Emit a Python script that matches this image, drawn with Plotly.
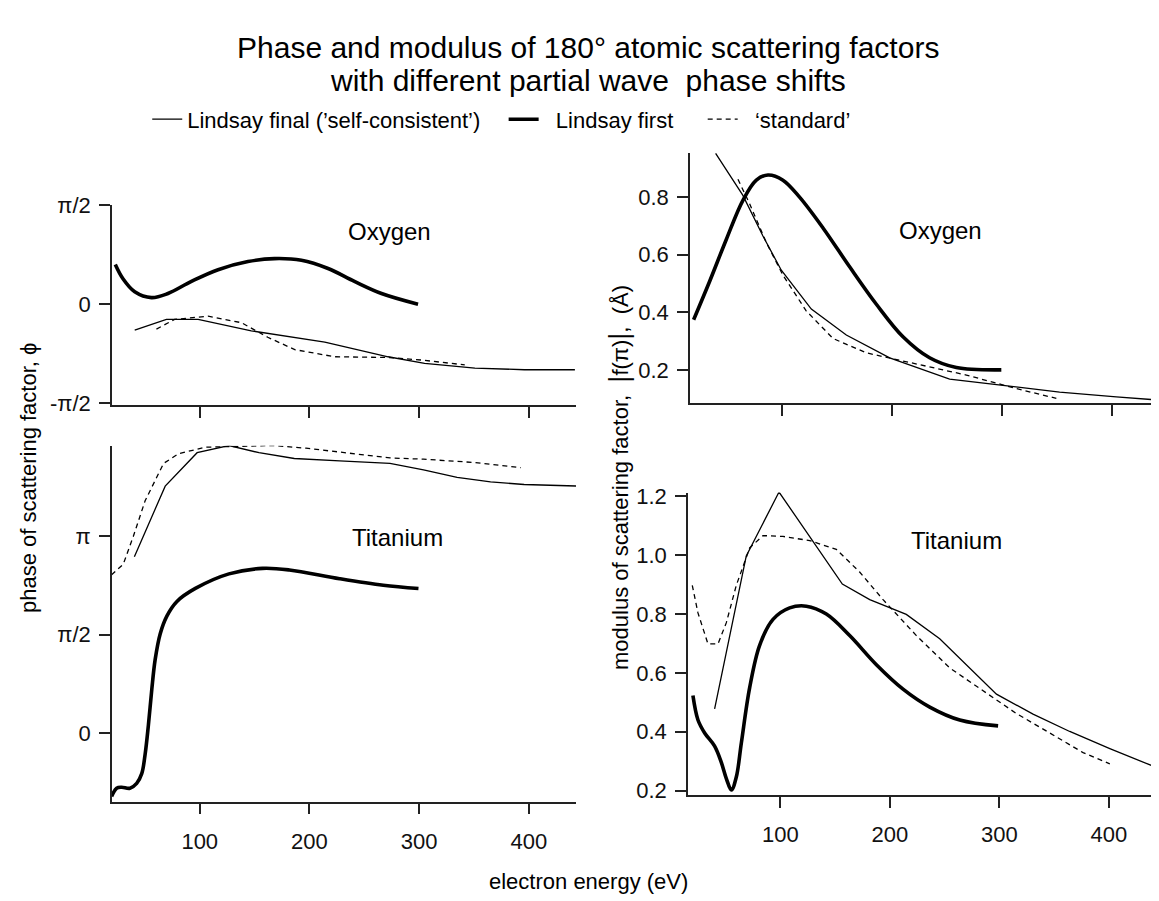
import math
import plotly.graph_objects as go

# Oxygen, phase (units of pi/2)
o_first_E = [23, 30, 40.7, 56, 71, 92.4, 116.7, 144, 168, 192.7, 217, 241, 265.7, 299]
o_first_phi = [0.40, 0.256, 0.125, 0.066, 0.108, 0.23, 0.348, 0.43, 0.46, 0.443, 0.36, 0.23, 0.108, 0.0]
o_final_E = [40.7, 69.6, 98.5, 147, 214, 271.7, 305, 350.8, 396, 442]
o_final_phi = [-0.262, -0.154, -0.154, -0.269, -0.384, -0.531, -0.597, -0.646, -0.662, -0.662]
o_std_E = [60.5, 77, 107.6, 138, 162, 186.6, 223, 272, 302, 341.6]
o_std_phi = [-0.252, -0.154, -0.121, -0.187, -0.334, -0.459, -0.531, -0.538, -0.564, -0.613]

# Titanium, phase (units of pi/2)
ti_first_E = [19.6, 24.2, 28.7, 36.4, 42.5, 47.1, 50.2, 53.2, 56.3, 59.3, 63.9, 70, 79.2, 96, 126.6, 157.2, 181.7, 227.5, 267.3, 299.4]
ti_first_phi = [-0.644, -0.561, -0.551, -0.561, -0.512, -0.413, -0.215, 0.083, 0.446, 0.743, 1.007, 1.188, 1.337, 1.469, 1.617, 1.673, 1.657, 1.568, 1.502, 1.469]
ti_final_E = [40.4, 68.5, 97.6, 126.6, 154, 186.2, 227.5, 273.4, 304, 334.6, 365.1, 395.7, 447.7]
ti_final_phi = [1.792, 2.508, 2.848, 2.921, 2.848, 2.789, 2.766, 2.739, 2.673, 2.597, 2.551, 2.525, 2.508]
ti_std_E = [19.6, 30.3, 39.4, 50.2, 67, 80.7, 105.2, 135.8, 166.4, 196.9, 227.5, 273.4, 304, 349.8, 392.7]
ti_std_phi = [1.607, 1.716, 1.997, 2.36, 2.739, 2.838, 2.904, 2.914, 2.921, 2.894, 2.855, 2.795, 2.782, 2.749, 2.696]

# Oxygen, modulus (Angstrom)
om_first_E = [19.7, 34.2, 49.4, 64.5, 76.7, 87.3, 100.9, 116, 137.3, 161.5, 185.8, 210, 234.2, 258.5, 299.4]
om_first = [0.374, 0.507, 0.653, 0.789, 0.859, 0.877, 0.859, 0.8, 0.693, 0.558, 0.428, 0.315, 0.242, 0.208, 0.2]
om_final_E = [39.7, 64.5, 82.7, 99.4, 126.7, 158.5, 197.9, 252.4, 300.9, 352.4, 403.9, 449.4]
om_final = [0.952, 0.806, 0.665, 0.546, 0.411, 0.321, 0.242, 0.168, 0.146, 0.123, 0.106, 0.093]
om_std_E = [60, 70.6, 85.8, 100.9, 122, 146.4, 176.7, 216, 267.6, 313, 349.4]
om_std = [0.862, 0.777, 0.642, 0.529, 0.405, 0.309, 0.259, 0.225, 0.182, 0.135, 0.101]

# Titanium, modulus (Angstrom)
tm_first_E = [20.2, 24.8, 30.9, 40, 46.1, 50.7, 55.3, 59.8, 64.4, 72, 81.1, 93.3, 108.5, 123.7, 142, 163.3, 187.7, 212, 236.4, 263.8, 298.8]
tm_first = [0.523, 0.44, 0.396, 0.351, 0.296, 0.241, 0.202, 0.246, 0.362, 0.55, 0.694, 0.782, 0.821, 0.827, 0.8, 0.727, 0.628, 0.545, 0.484, 0.44, 0.42]
tm_final_E = [40, 68.9, 98.8, 156.6, 181.6, 215, 245.5, 269.9, 297.3, 330.7, 364.2, 400.8, 449.5]
tm_final = [0.478, 0.998, 1.215, 0.902, 0.849, 0.799, 0.716, 0.628, 0.528, 0.46, 0.401, 0.343, 0.269]
tm_std_E = [19.6, 24.8, 33.9, 43.1, 50.7, 59.8, 72, 84.2, 102.4, 126.8, 151.1, 172.4, 193.8, 224.2, 254.6, 285.1, 315.5, 345.9, 376.4, 400.8]
tm_std = [0.898, 0.804, 0.699, 0.699, 0.771, 0.898, 1.025, 1.067, 1.064, 1.05, 1.02, 0.943, 0.849, 0.727, 0.617, 0.539, 0.462, 0.396, 0.329, 0.291]

half_pi = math.pi / 2
W, H = 1159, 901
FONT = "Arial, Liberation Sans, sans-serif"
NB = "\u00a0"


def xd(a, b):
    return [a / W, b / W]


def yd(top, bottom):
    return [1 - bottom / H, 1 - top / H]


thin = dict(color="black", width=1.3)
thick = dict(color="black", width=3.6)
dashed = dict(color="black", width=1.3, dash="5px,4px")

fig = go.Figure()


def add(xs, ys, line, ax, name, show):
    fig.add_trace(go.Scatter(x=xs, y=ys, mode="lines", line=line, xaxis=ax[0], yaxis=ax[1],
                             name=name, showlegend=show,
                             line_shape="spline" if line is thick else "linear"))


# legend order: final, first, standard
add(o_final_E, [v * half_pi for v in o_final_phi], thin, ("x", "y"),
    "Lindsay final (’self-consistent’)" + NB * 3, True)
add(o_first_E, [v * half_pi for v in o_first_phi], thick, ("x", "y"),
    NB * 2 + "Lindsay first" + NB * 4, True)
add(o_std_E, [v * half_pi for v in o_std_phi], dashed, ("x", "y"), NB * 2 + "‘standard’", True)

add(ti_final_E, [v * half_pi for v in ti_final_phi], thin, ("x2", "y2"), "", False)
add(ti_first_E, [v * half_pi for v in ti_first_phi], thick, ("x2", "y2"), "", False)
add(ti_std_E, [v * half_pi for v in ti_std_phi], dashed, ("x2", "y2"), "", False)

add(om_final_E, om_final, thin, ("x3", "y3"), "", False)
add(om_first_E, om_first, thick, ("x3", "y3"), "", False)
add(om_std_E, om_std, dashed, ("x3", "y3"), "", False)

add(tm_final_E, tm_final, thin, ("x4", "y4"), "", False)
add(tm_first_E, tm_first, thick, ("x4", "y4"), "", False)
add(tm_std_E, tm_std, dashed, ("x4", "y4"), "", False)

ax_style = dict(showline=True, linecolor="#222", linewidth=1.6, showgrid=False, zeroline=False,
                ticks="outside", tickcolor="#222", tickwidth=1.6, ticklen=11,
                tickfont=dict(family=FONT, size=22, color="#111"))

xticks = [100, 200, 300, 400]

fig.update_layout(
    width=W, height=H,
    margin=dict(l=0, r=0, t=0, b=0),
    plot_bgcolor="white", paper_bgcolor="white",
    font=dict(family=FONT, color="black"),
    showlegend=True,
    legend=dict(orientation="h", x=0.426, xanchor="center", y=1 - 102 / H, yanchor="middle",
                font=dict(family=FONT, size=22), itemwidth=30, bgcolor="rgba(0,0,0,0)"),
    xaxis=dict(domain=xd(104, 568), range=[20, 443], anchor="y", tickvals=xticks,
               showticklabels=False, **ax_style),
    yaxis=dict(domain=yd(190, 395), range=[-1.598, half_pi], anchor="x",
               tickvals=[-half_pi, 0, half_pi], ticktext=["-π/2", "0", "π/2"], **ax_style),
    xaxis2=dict(domain=xd(104, 568), range=[20, 443], anchor="y2", tickvals=xticks, **ax_style),
    yaxis2=dict(domain=yd(437, 802), range=[-1.093, 4.583], anchor="x2",
                tickvals=[0, half_pi, math.pi], ticktext=["0", "π/2", "π"], **ax_style),
    xaxis3=dict(domain=xd(682, 1159), range=[16.4, 450], anchor="y3", tickvals=xticks,
                showticklabels=False, **ax_style),
    yaxis3=dict(domain=yd(136, 393), range=[0.085, 0.955], anchor="x3",
                tickvals=[0.2, 0.4, 0.6, 0.8], ticktext=["0.2", "0.4", "0.6", "0.8"], **ax_style),
    xaxis4=dict(domain=xd(680, 1159), range=[15.7, 453], anchor="y4", tickvals=xticks, **ax_style),
    yaxis4=dict(domain=yd(485, 795), range=[0.186, 1.213], anchor="x4",
                tickvals=[0.2, 0.4, 0.6, 0.8, 1.0, 1.2],
                ticktext=["0.2", "0.4", "0.6", "0.8", "1.0", "1.2"], **ax_style),
)
fig.update_xaxes(ticklabelstandoff=8)
fig.update_yaxes(ticklabelstandoff=4)


def note(text, x, y, size, angle=0):
    fig.add_annotation(text=text, x=x / W, y=1 - y / H, xref="paper", yref="paper",
                       showarrow=False, textangle=angle,
                       font=dict(family=FONT, size=size, color="black"),
                       xanchor="center", yanchor="middle")


bar = "<span style='font-size:27px'>|</span>"
note("Phase and modulus of 180° atomic scattering factors", 580, 28, 30)
note("with different partial wave  phase shifts", 580, 62, 30)
note("electron energy (eV)", 580, 884, 22)
note("phase of scattering factor, ϕ", 20, 470, 22, angle=-90)
note("modulus of scattering factor,  " + bar + "f(π)" + bar + ",  (Å)", 611, 470, 22, angle=-90)

note("Oxygen", 382, 217, 24)
note("Titanium", 389, 531, 24)
note("Oxygen", 932, 216, 24)
note("Titanium", 948, 534, 24)

fig.write_html("out.html")
